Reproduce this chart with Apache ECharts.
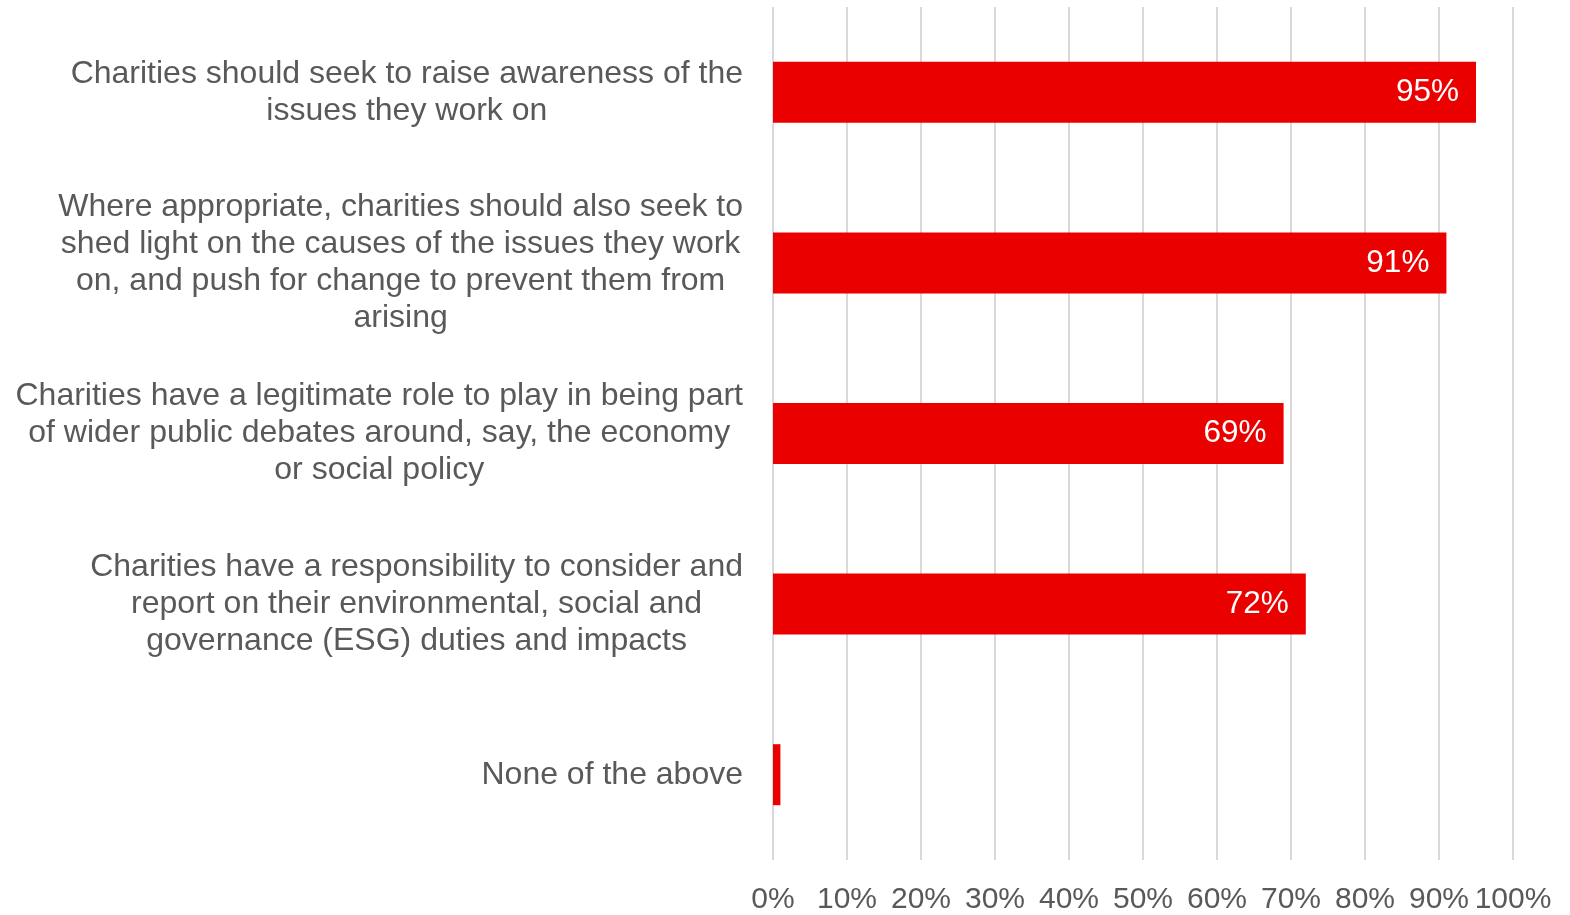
<!DOCTYPE html>
<html>
<head>
<meta charset="utf-8">
<script src="https://cdn.jsdelivr.net/npm/echarts@6/dist/echarts.min.js"></script>
<style>
  html, body { margin: 0; padding: 0; background: #ffffff; }
  #chart { width: 1570px; height: 915px; }
</style>
</head>
<body>
<div id="chart"></div>
<script>
// Survey statements (top to bottom) and share of respondents agreeing (%)
const statements = [
  'Charities should seek to raise awareness of the\nissues they work on',
  'Where appropriate, charities should also seek to\nshed light on the causes of the issues they work\non, and push for change to prevent them from\narising',
  'Charities have a legitimate role to play in being part\nof wider public debates around, say, the economy\nor social policy',
  'Charities have a responsibility to consider and\nreport on their environmental, social and\ngovernance (ESG) duties and impacts',
  'None of the above'
];
const agreePct = [95, 91, 69, 72, 1];
const valueLabels = ['95%', '91%', '69%', '72%', ''];
const tickStep = 10;

const TEXT = '#595959';
const FONT = 'Liberation Sans, Arial, sans-serif';

const chart = echarts.init(document.getElementById('chart'), null, { renderer: 'canvas' });

chart.setOption({
  animation: false,
  backgroundColor: '#ffffff',
  grid: { left: 773, right: 57, top: 7, bottom: 49, containLabel: false },
  xAxis: {
    type: 'value',
    min: 0,
    max: 100,
    interval: tickStep,
    axisLine: { show: false },
    axisTick: { show: false },
    splitLine: { show: true, lineStyle: { color: '#d9d9d9', width: 2 } },
    axisLabel: {
      formatter: v => v + '%',
      color: TEXT,
      fontFamily: FONT,
      fontSize: 30,
      margin: 25
    }
  },
  yAxis: {
    type: 'category',
    inverse: true,
    data: statements,
    axisLine: { show: false },
    axisTick: { show: false },
    splitLine: { show: false },
    axisLabel: {
      align: 'right',
      margin: 30,
      color: TEXT,
      fontFamily: FONT,
      fontSize: 32,
      lineHeight: 37,
      formatter: s => s.split('\n').map(l => '{c|' + l + '}').join('\n'),
      rich: {
        c: { align: 'center', color: TEXT, fontFamily: FONT, fontSize: 32, lineHeight: 37 }
      }
    }
  },
  series: [{
    type: 'bar',
    data: agreePct,
    barWidth: 61,
    itemStyle: { color: '#eb0000' },
    label: {
      show: true,
      position: 'insideRight',
      distance: 17,
      color: '#ffffff',
      fontFamily: FONT,
      fontSize: 31.5,
      formatter: p => valueLabels[p.dataIndex]
    }
  }]
});
</script>
</body>
</html>
